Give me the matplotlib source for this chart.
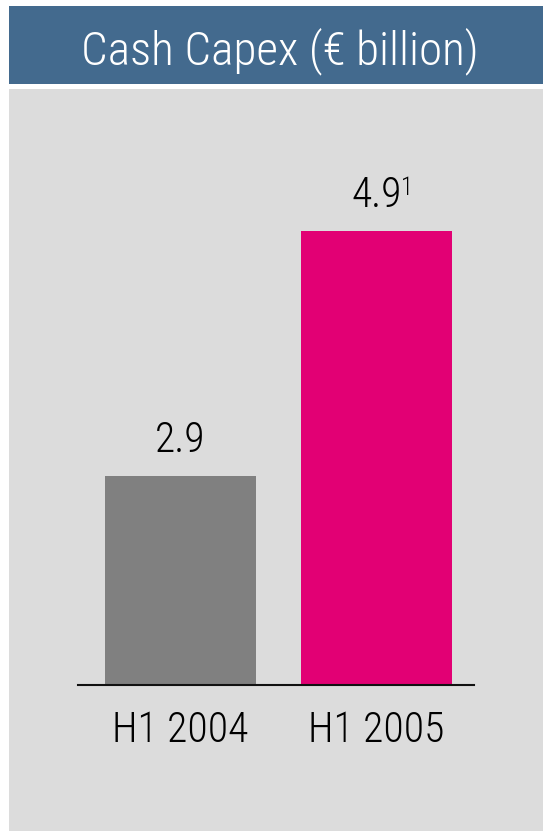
import matplotlib.pyplot as plt
from matplotlib.patches import Rectangle
from matplotlib import font_manager

# data
periods = ['H1 2004', 'H1 2005']
capex = [2.9, 4.9]
value_labels = ['2.9', '4.9']
footnotes = ['', '1']
bar_colors = ['#808080', '#E20074']

# narrow sans font, as in the original slide
names = {f.name for f in font_manager.fontManager.ttflist}
font = next((n for n in ['Roboto Condensed', 'IBM Plex Sans Condensed', 'Archivo Narrow',
                         'Fira Sans Condensed', 'Liberation Sans'] if n in names), 'DejaVu Sans')
plt.rcParams['font.family'] = [font, 'DejaVu Sans']
plt.rcParams['font.weight'] = 300

W, H = 543, 831
fig = plt.figure(figsize=(W / 100, H / 100), dpi=100)
fig.patch.set_facecolor('white')

# title banner and grey panel
fig.add_artist(Rectangle((9 / W, 1 - 84 / H), 1, 78 / H, transform=fig.transFigure,
                         facecolor='#436A8E', edgecolor='none', zorder=0))
fig.add_artist(Rectangle((9 / W, 0), 1, 1 - 89 / H, transform=fig.transFigure,
                         facecolor='#DCDCDC', edgecolor='none', zorder=0))
fig.text(280 / W, 1 - 64 / H, 'Cash Capex (\u20ac billion)', color='white',
         fontsize=34, ha='center', va='baseline')

# axes: x 78..474 px, baseline at 685 px
ax = fig.add_axes([78 / W, (H - 685) / H, (474 - 78) / W, (685 - 100) / H])
ax.set_facecolor('none')
x = range(len(periods))
bars = ax.bar(x, capex, width=0.77, color=bar_colors, zorder=2)
ax.set_xlim(-0.523, 1.497)
ax.set_ylim(1.19, 5.97)

for b, lab, fn in zip(bars, value_labels, footnotes):
    cx = b.get_x() + b.get_width() / 2
    ax.annotate(lab, (cx, b.get_height()), xytext=(0, 17), textcoords='offset points',
                ha='center', va='baseline', fontsize=30, color='black')
    if fn:
        ax.annotate(fn, (cx, b.get_height()), xytext=(17.5, 26), textcoords='offset points',
                    ha='left', va='baseline', fontsize=18, color='black')

ax.set_xticks(list(x))
ax.set_xticklabels(periods, fontsize=30, color='black')
ax.tick_params(axis='x', length=0, pad=18)
ax.set_yticks([])
for s in ['top', 'left', 'right']:
    ax.spines[s].set_visible(False)
ax.spines['bottom'].set_color('#111111')
ax.spines['bottom'].set_linewidth(1.5)
ax.spines['bottom'].set_zorder(3)

fig.savefig('out.png', dpi=100)
